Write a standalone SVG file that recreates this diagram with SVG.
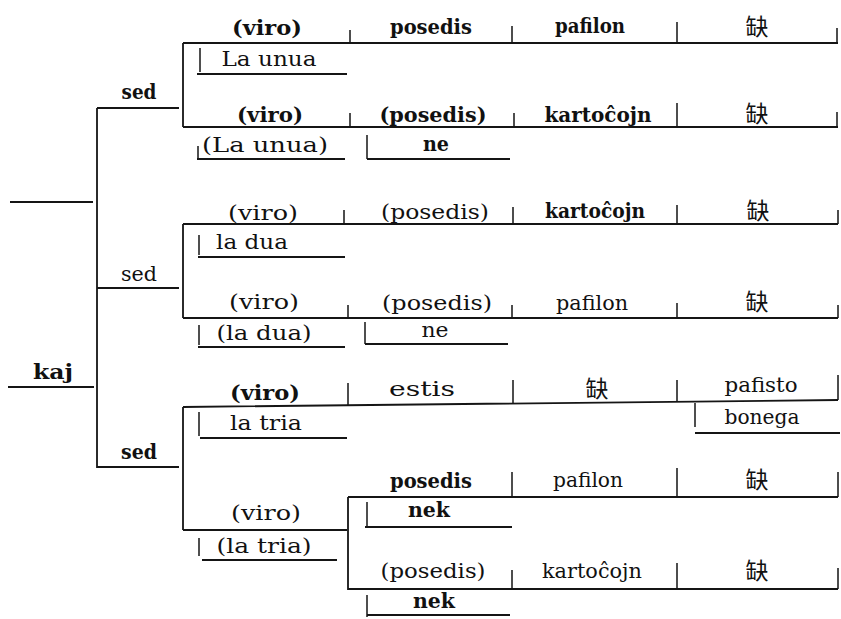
<svg xmlns="http://www.w3.org/2000/svg" width="841" height="619" viewBox="0 0 841 619">
<style>
.t{font-family:"DejaVu Serif","Liberation Serif",serif;font-size:20px;fill:#111;text-anchor:middle}
.b{font-weight:bold}
.c{font-family:"Noto Sans CJK SC","Noto Sans CJK TC",sans-serif;font-size:23px;fill:#111;text-anchor:middle}
.ln{stroke:#151515;stroke-width:1.8;fill:none}
.tk{stroke:#151515;stroke-width:1.5;fill:none}
</style>
<rect width="841" height="619" fill="#fff"/>
<g id="connectors">
<path class="ln" d="M10 202H93M8 387H94M97 108V468M97 108H179M97 288H179M97 467H179"/>
<path class="ln" d="M183 43V127M183 43H838M183 127H838M197 74H347M197 159H345M367 159H510"/>
<path class="ln" d="M183 224V318M183 224H838M183 318H838M198 257H345M198 347H345M365 344H508"/>
<path class="ln" d="M183 407V530M183 407L838 400M200 438H347M695 433H840M183 530H347M202 560H337"/>
<path class="ln" d="M348 497V590M348 497H838M348 589H838M365 527H512M367 615H510"/>
</g>
<g id="dividers">
<path class="tk" d="M350 30V43M512 26V43M677 22V43M837 28V43"/>
<path class="tk" d="M350 113V127M514 113V127M677 103V127M837 112V127"/>
<path class="tk" d="M344 210V224M513 207V224M677 205V224M838 210V224"/>
<path class="tk" d="M348 305V318M512 305V318M677 303V318M838 305V318"/>
<path class="tk" d="M348 383V406M513 380V403M677 380V402M838 375V400"/>
<path class="tk" d="M512 472V497M677 468V497M838 472V497"/>
<path class="tk" d="M512 570V589M677 563V589M838 568V589"/>
</g>
<g id="n-kaj"><text class="t b" x="53" y="379" textLength="40" lengthAdjust="spacingAndGlyphs">kaj</text></g>
<g id="n-sed1"><text class="t b" x="139" y="99" textLength="35" lengthAdjust="spacingAndGlyphs">sed</text></g>
<g id="n-sed2"><text class="t" x="139" y="281" textLength="36" lengthAdjust="spacingAndGlyphs">sed</text></g>
<g id="n-sed3"><text class="t b" x="139" y="459" textLength="36" lengthAdjust="spacingAndGlyphs">sed</text></g>
<g id="n-r1">
<text class="t b" x="267" y="35" textLength="70" lengthAdjust="spacingAndGlyphs">(viro)</text>
<text class="t b" x="431" y="34" textLength="82" lengthAdjust="spacingAndGlyphs">posedis</text>
<text class="t b" x="590" y="33" textLength="70" lengthAdjust="spacingAndGlyphs">pafilon</text>
<text class="c" x="757" y="35">缺</text>
</g>
<g id="n-launua"><path class="tk" d="M200 48V72"/><text class="t" x="269" y="66" textLength="95" lengthAdjust="spacingAndGlyphs">La unua</text></g>
<g id="n-r2">
<text class="t b" x="270" y="122" textLength="66" lengthAdjust="spacingAndGlyphs">(viro)</text>
<text class="t b" x="433" y="122" textLength="107" lengthAdjust="spacingAndGlyphs">(posedis)</text>
<text class="t b" x="598" y="122" textLength="107" lengthAdjust="spacingAndGlyphs">kartoĉojn</text>
<text class="c" x="757" y="122">缺</text>
</g>
<g id="n-launua2"><path class="tk" d="M198 146V159"/><text class="t" x="265" y="152" textLength="126" lengthAdjust="spacingAndGlyphs">(La unua)</text></g>
<g id="n-ne1"><path class="tk" d="M367 135V159"/><text class="t b" x="436" y="151" textLength="26" lengthAdjust="spacingAndGlyphs">ne</text></g>
<g id="n-r3">
<text class="t" x="263" y="220" textLength="70" lengthAdjust="spacingAndGlyphs">(viro)</text>
<text class="t" x="435" y="219" textLength="108" lengthAdjust="spacingAndGlyphs">(posedis)</text>
<text class="t b" x="595" y="218" textLength="100" lengthAdjust="spacingAndGlyphs">kartoĉojn</text>
<text class="c" x="758" y="219">缺</text>
</g>
<g id="n-ladua"><path class="tk" d="M199 235V255"/><text class="t" x="252" y="249" textLength="72" lengthAdjust="spacingAndGlyphs">la dua</text></g>
<g id="n-r4">
<text class="t" x="264" y="309" textLength="70" lengthAdjust="spacingAndGlyphs">(viro)</text>
<text class="t" x="437" y="310" textLength="110" lengthAdjust="spacingAndGlyphs">(posedis)</text>
<text class="t" x="592" y="310" textLength="72" lengthAdjust="spacingAndGlyphs">pafilon</text>
<text class="c" x="757" y="310">缺</text>
</g>
<g id="n-ladua2"><path class="tk" d="M199 325V345"/><text class="t" x="264" y="340" textLength="95" lengthAdjust="spacingAndGlyphs">(la dua)</text></g>
<g id="n-ne2"><path class="tk" d="M365 322V344"/><text class="t" x="435" y="337" textLength="27" lengthAdjust="spacingAndGlyphs">ne</text></g>
<g id="n-r5">
<text class="t b" x="265" y="400" textLength="70" lengthAdjust="spacingAndGlyphs">(viro)</text>
<text class="t" x="422" y="396" textLength="66" lengthAdjust="spacingAndGlyphs">estis</text>
<text class="c" x="597" y="397">缺</text>
<text class="t" x="761" y="392" textLength="73" lengthAdjust="spacingAndGlyphs">pafisto</text>
</g>
<g id="n-latria"><path class="tk" d="M199 412V436"/><text class="t" x="266" y="430" textLength="72" lengthAdjust="spacingAndGlyphs">la tria</text></g>
<g id="n-bonega"><path class="tk" d="M695 403V427"/><text class="t" x="762" y="424" textLength="75" lengthAdjust="spacingAndGlyphs">bonega</text></g>
<g id="n-r6viro"><text class="t" x="266" y="520" textLength="70" lengthAdjust="spacingAndGlyphs">(viro)</text></g>
<g id="n-latria2"><path class="tk" d="M199 538V556"/><text class="t" x="264" y="553" textLength="95" lengthAdjust="spacingAndGlyphs">(la tria)</text></g>
<g id="n-r6">
<text class="t b" x="431" y="488" textLength="82" lengthAdjust="spacingAndGlyphs">posedis</text>
<text class="t" x="588" y="487" textLength="70" lengthAdjust="spacingAndGlyphs">pafilon</text>
<text class="c" x="757" y="488">缺</text>
</g>
<g id="n-nek1"><path class="tk" d="M367 502V526"/><text class="t b" x="429" y="517" textLength="42" lengthAdjust="spacingAndGlyphs">nek</text></g>
<g id="n-r7">
<text class="t" x="433" y="578" textLength="105" lengthAdjust="spacingAndGlyphs">(posedis)</text>
<text class="t" x="592" y="578" textLength="100" lengthAdjust="spacingAndGlyphs">kartoĉojn</text>
<text class="c" x="757" y="579">缺</text>
</g>
<g id="n-nek2"><path class="tk" d="M367 595V617"/><text class="t b" x="434" y="608" textLength="42" lengthAdjust="spacingAndGlyphs">nek</text></g>
</svg>
